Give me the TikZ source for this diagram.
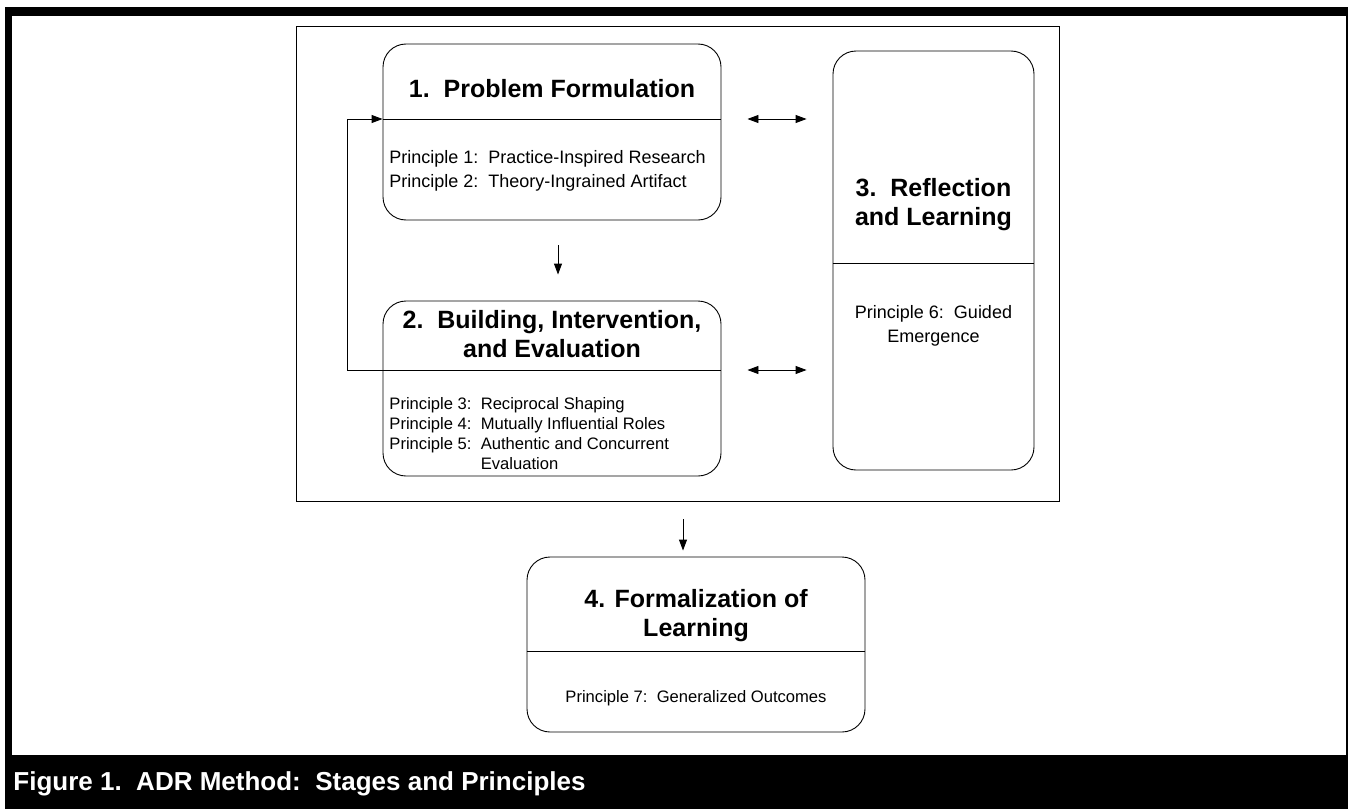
\documentclass[tikz,border=0pt]{standalone}
\usepackage{fontspec}
\setmainfont{Liberation Sans}
\usetikzlibrary{arrows.meta}

\begin{document}
\begin{tikzpicture}[x=1pt, y=-1pt, line width=0.9pt,
    stage/.style={draw, rounded corners=23pt},
    title/.style={font=\fontsize{25}{29}\selectfont\bfseries, align=center, inner sep=0pt},
    prin/.style={font=\fontsize{18}{23.5}\selectfont, inner sep=0pt},
    prinsmall/.style={font=\fontsize{16.6}{20}\selectfont, inner sep=0pt},
    arr/.style={-{Triangle[length=11pt,width=8pt]}},
    dblarr/.style={{Triangle[length=11pt,width=8pt]}-{Triangle[length=11pt,width=8pt]}, shorten <=26pt, shorten >=26pt}]
    \useasboundingbox (0,0) rectangle (1348,808);
    \fill[black] (5,7) rectangle (1360,812); %frame and caption band%
    \fill[white] (12,16) rectangle (1346,755);
    \node[anchor=west, text=white, font=\fontsize{26}{30}\selectfont\bfseries, inner sep=0pt] (cap) at (13,784) {Figure 1.~~ADR Method:~~Stages and Principles};

    \node[draw, minimum width=763pt, minimum height=475pt] (adr) at (677.5,263.5) {}; %stages 1 to 3%

    \node[stage, minimum width=338pt, minimum height=176pt] (pf) at (552,132) {};
    \node[stage, minimum width=338pt, minimum height=175pt] (bie) at (552,388.5) {};
    \node[stage, minimum width=201pt, minimum height=419pt] (rl) at (933.5,260.5) {};
    \node[stage, minimum width=338pt, minimum height=175pt] (fl) at (696,644.5) {};

    \coordinate (pfdiv) at (552,119);
    \coordinate (biediv) at (552,370);
    \coordinate (rldiv) at (933.5,263);
    \coordinate (fldiv) at (696,651);
    \draw (pf.west |- pfdiv) -- (pf.east |- pfdiv);
    \draw (bie.west |- biediv) -- (bie.east |- biediv);
    \draw (rl.west |- rldiv) -- (rl.east |- rldiv);
    \draw (fl.west |- fldiv) -- (fl.east |- fldiv);

    \node[title] (pftitle) at (552,89) {1.~~Problem Formulation};
    \node[prin, anchor=west, align=left] (pfprin) at (389,171) {Principle 1:~~Practice-Inspired Research\\Principle 2:~~Theory-Ingrained Artifact};

    \node[title] (bietitle) at (552,334) {2.~~Building, Intervention,\\and Evaluation};
    \node[prinsmall, anchor=west] (bieprin) at (389,435) {\begin{tabular}{@{}l@{~~}l@{}}
        Principle 3: & Reciprocal Shaping\\
        Principle 4: & Mutually Influential Roles\\
        Principle 5: & Authentic and Concurrent\\
                     & Evaluation
      \end{tabular}};

    \node[title] (rltitle) at (933.5,205) {3.~~Reflection\\and Learning};
    \node[prin, align=center] (rlprin) at (933.5,326) {Principle 6:~~Guided\\Emergence};

    \node[title] (fltitle) at (696,616) {4. Formalization of\\Learning};
    \node[prinsmall] (flprin) at (696,698) {Principle 7:~~Generalized Outcomes};

    \draw[dblarr] (pf.east |- pfdiv) -- (rl.west |- pfdiv);
    \draw[dblarr] (bie.east |- biediv) -- (rl.west |- biediv);
    \draw[arr, shorten <=25pt, shorten >=26pt] ([xshift=6pt]pf.south) -- ([xshift=6pt]bie.north);
    \draw[arr] (bie.west |- biediv) -- ++(-35,0) |- (pf.west |- pfdiv); %iteration%
    \draw[arr, shorten <=18pt, shorten >=6pt] ([xshift=-13pt]fl.north |- adr.south) -- ([xshift=-13pt]fl.north);
\end{tikzpicture}
\end{document}
